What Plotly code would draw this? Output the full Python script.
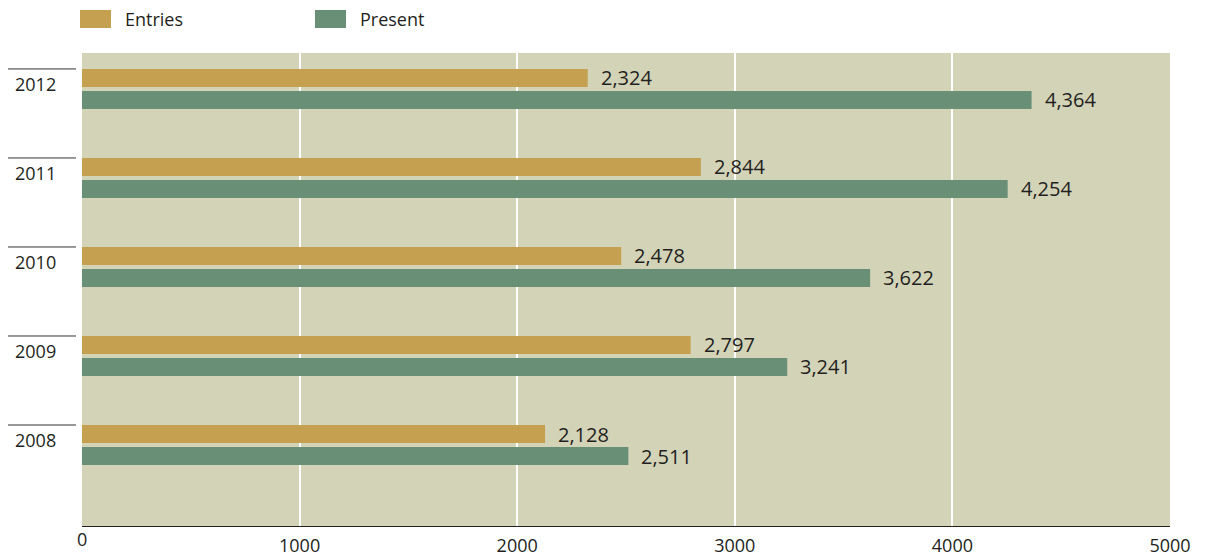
import plotly.graph_objects as go

# ---- data ----
years = ["2008", "2009", "2010", "2011", "2012"]
entries = [2128, 2797, 2478, 2844, 2324]
present = [2511, 3241, 3622, 4254, 4364]
series_names = ["Entries", "Present"]
x_ticks = [1000, 2000, 3000, 4000, 5000]

# ---- style ----
W, H = 1206, 558
L, R, T, B = 82, 36, 53, 32
PW, PH = W - L - R, H - T - B
GOLD = "#c4a050"
GREEN = "#6a8f77"
BG = "#d3d3b8"
TXT = "#231f20"
FONT = "Open Sans"

def px_x(px):
    return (px - L) / PW

def px_y(py):
    return (H - B - py) / PH

order = years[::-1]  # top to bottom
idx = {y: order.index(y) for y in years}

fig = go.Figure()
fig.add_trace(go.Bar(y=years, x=entries, name=series_names[0], orientation="h",
                     marker=dict(color=GOLD, line=dict(width=0)), showlegend=False))
fig.add_trace(go.Bar(y=years, x=present, name=series_names[1], orientation="h",
                     marker=dict(color=GREEN, line=dict(width=0)), showlegend=False))

annotations = []
shapes = []
# value labels
for vals, shift in ((entries, 11), (present, -11)):
    for y, v in zip(years, vals):
        annotations.append(dict(x=v, y=idx[y], xref="x", yref="y", text=f"{v:,}",
                                showarrow=False, xanchor="left", yanchor="middle",
                                xshift=11, yshift=shift,
                                font=dict(size=20, color=TXT, family=FONT)))
# year labels and lines
for y in years:
    annotations.append(dict(x=px_x(13), y=idx[y], xref="paper", yref="y", text=y,
                            showarrow=False, xanchor="left", yanchor="middle",
                            yshift=5, font=dict(size=18, color=TXT, family=FONT)))
    shapes.append(dict(type="line", xref="paper", yref="y", x0=px_x(8), x1=px_x(76),
                       ysizemode="pixel", yanchor=idx[y], y0=20, y1=20,
                       line=dict(color="#333333", width=1)))
# "0" tick label
annotations.append(dict(x=0, y=0, xref="x", yref="paper", text="0", showarrow=False,
                        xanchor="center", yanchor="middle", yshift=-13,
                        font=dict(size=18, color=TXT, family=FONT)))
# legend
legend_items = [(series_names[0], GOLD, 80), (series_names[1], GREEN, 315)]
for name, col, x0 in legend_items:
    shapes.append(dict(type="rect", xref="paper", yref="paper",
                       x0=px_x(x0), x1=px_x(x0 + 31), y0=px_y(28), y1=px_y(10),
                       fillcolor=col, line=dict(width=0)))
    annotations.append(dict(x=px_x(x0 + 43), y=px_y(19), xref="paper", yref="paper",
                            text=name, showarrow=False, xanchor="left", yanchor="middle",
                            font=dict(size=18, color=TXT, family=FONT)))

fig.update_layout(
    width=W, height=H,
    margin=dict(l=L, r=R, t=T, b=B, pad=0, autoexpand=False),
    paper_bgcolor="white", plot_bgcolor=BG,
    barmode="group", bargap=0.506, bargroupgap=0.182,
    font=dict(family=FONT, color=TXT, size=18),
    annotations=annotations, shapes=shapes,
    showlegend=False,
    xaxis=dict(range=[0, 5000], tickvals=x_ticks, ticktext=[str(t) for t in x_ticks],
               showgrid=True, gridcolor="white", gridwidth=2, zeroline=False,
               showline=True, linecolor=TXT, linewidth=1, ticks="",
               ticklabelstandoff=3, automargin=False,
               tickfont=dict(size=18, color=TXT, family=FONT)),
    yaxis=dict(type="category", categoryorder="array", categoryarray=order,
               range=[4.91, -0.404], showticklabels=False, showgrid=False,
               zeroline=False, showline=False, ticks="", automargin=False),
)

fig.write_html("out.html")
